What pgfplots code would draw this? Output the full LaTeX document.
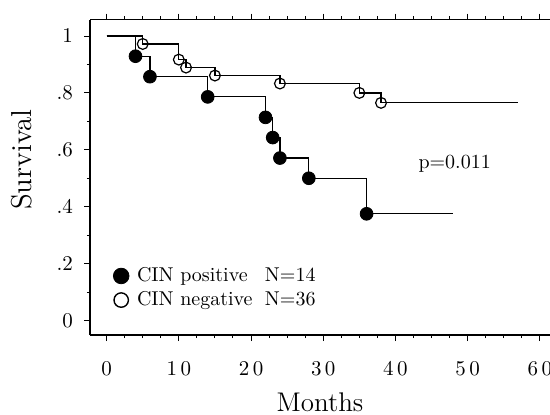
\documentclass[border=0pt]{standalone}
\usepackage{pgfplots}
\pgfplotsset{compat=1.18}
\begin{document}
\begin{tikzpicture}
\begin{axis}[
  scale only axis,
  width=230pt, height=157.75pt,
  xmin=-2.3, xmax=61.4, ymin=-0.051, ymax=1.058,
  axis x line=box, axis y line=left,
  x axis line style={-}, y axis line style={-},
  axis line style={line width=0.6pt},
  tick align=outside,
  xtick={0,10,20,30,40,50,60},
  xticklabels={0,1\,0,2\,0,3\,0,4\,0,5\,0,6\,0},
  minor x tick num=3,
  ytick={0,0.2,0.4,0.6,0.8,1},
  yticklabels={0,.2,.4,.6,.8,1},
  minor y tick num=1,
  xtick pos=both, xticklabel pos=lower,
  ytick pos=left,
  major tick length=3pt, minor tick length=1.6pt,
  every tick/.style={black, line width=0.5pt},
  tick label style={font=\fontsize{10.5}{12}\selectfont},
  xticklabel style={yshift=-6.5pt},
  yticklabel style={xshift=-2pt},
  xlabel={Months}, ylabel={Survival},
  xlabel style={font=\fontsize{13.5}{16}\selectfont, at={([yshift=-28.5pt]rel axis cs:0.5,0)}, anchor=north, inner sep=0pt},
  ylabel style={font=\fontsize{14.4}{17}\selectfont, at={([xshift=-28.5pt]rel axis cs:0,0.556)}, anchor=south, inner sep=0pt},
  legend image code/.code={\draw[#1] plot coordinates {(0pt,0pt)};},
  legend style={at={(rel axis cs:0.05,0.225)}, anchor=north west, draw=none, fill=none,
    font=\fontsize{10}{12}\selectfont, inner sep=0pt, row sep=0.5pt,
    nodes={inner sep=1.5pt}},
  legend cell align=left,
  legend style={/tikz/every odd column/.append style={column sep=2.5pt}},
]
\coordinate (SW) at (rel axis cs:0,0);
% CIN positive
\addplot[const plot mark left, line width=0.6pt, black, forget plot] coordinates {
  (0,1) (4,0.929) (6,0.857) (14,0.786) (22,0.714) (23,0.643) (24,0.571) (28,0.5) (36,0.375) (48,0.375)
};
\addplot[only marks, mark=*, mark size=3.2pt, black, forget plot] coordinates {
  (4,0.929) (6,0.857) (14,0.786) (22,0.714) (23,0.643) (24,0.571) (28,0.5) (36,0.375)
};
% CIN negative
\addplot[const plot mark left, line width=0.6pt, black, forget plot] coordinates {
  (0,1) (5,0.972) (10,0.917) (11,0.889) (15,0.861) (24,0.833) (35,0.80) (38,0.765) (57,0.765)
};
\addplot[only marks, mark=o, mark size=2.7pt, line width=0.6pt, black, forget plot] coordinates {
  (5,0.972) (10,0.917) (11,0.889) (15,0.861) (24,0.833) (35,0.80) (38,0.765)
};
\addlegendimage{only marks, mark=*, mark size=3.9pt, black}
\addlegendentry{\makebox[64pt][l]{CIN positive}N=14}
\addlegendimage{only marks, mark=o, mark size=3.6pt, line width=0.7pt, black}
\addlegendentry{\makebox[64pt][l]{CIN negative}N=36}
\node[anchor=base, font=\fontsize{10}{12}\selectfont] at (axis cs:48.2,0.536) {p=0.011};
\end{axis}
\pgfresetboundingbox
\path ([shift={(-45pt,-39.5pt)}]SW) rectangle ++(275pt,207pt);
\end{tikzpicture}
\end{document}
